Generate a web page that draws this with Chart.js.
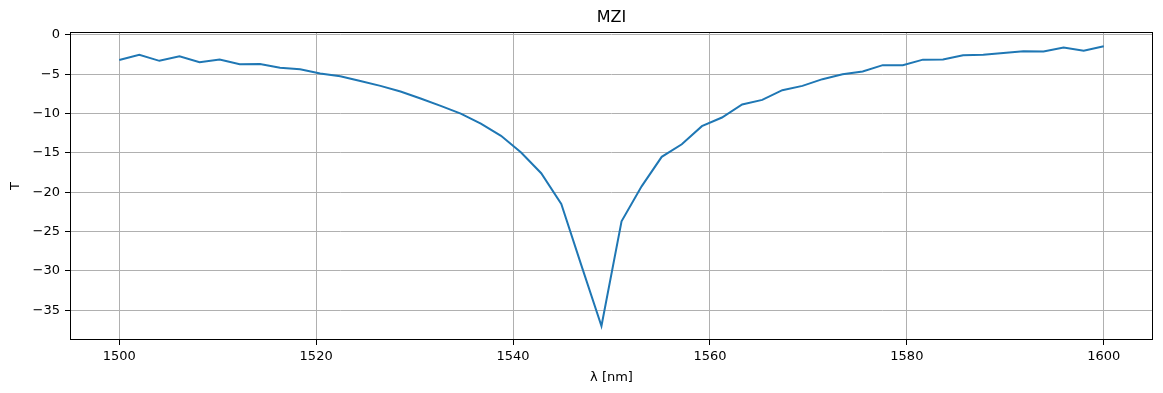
<!DOCTYPE html>
<html>
<head>
<meta charset="utf-8">
<script src="https://cdn.jsdelivr.net/npm/chart.js@4.4.0/dist/chart.umd.min.js"></script>
<style>
  html, body { margin: 0; padding: 0; background: #fff; }
  #wrap { width: 1163px; height: 393px; }
</style>
</head>
<body>
<div id="wrap"><canvas id="mziChart" width="1163" height="393"></canvas></div>
<script>
// wavelength samples (nm) and transmission (dB)
const wavelength = [
  1500.00, 1502.04, 1504.08, 1506.12, 1508.16, 1510.20, 1512.24, 1514.29, 1516.33, 1518.37,
  1520.41, 1522.45, 1524.49, 1526.53, 1528.57, 1530.61, 1532.65, 1534.69, 1536.73, 1538.78,
  1540.82, 1542.86, 1544.90, 1546.94, 1548.98, 1551.02, 1553.06, 1555.10, 1557.14, 1559.18,
  1561.22, 1563.27, 1565.31, 1567.35, 1569.39, 1571.43, 1573.47, 1575.51, 1577.55, 1579.59,
  1581.63, 1583.67, 1585.71, 1587.76, 1589.80, 1591.84, 1593.88, 1595.92, 1597.96, 1600.00
];
const transmission = [
  -3.20, -2.54, -3.30, -2.71, -3.47, -3.13, -3.73, -3.69, -4.19, -4.36,
  -4.91, -5.25, -5.85, -6.48, -7.20, -8.09, -9.02, -10.00, -11.27, -12.83,
  -14.95, -17.58, -21.50, -29.30, -37.00, -23.70, -19.25, -15.50, -13.90, -11.60,
  -10.50, -8.85, -8.26, -7.03, -6.48, -5.63, -5.00, -4.66, -3.85, -3.85,
  -3.15, -3.13, -2.58, -2.54, -2.29, -2.08, -2.12, -1.61, -2.03, -1.44
];
const xTicks = [1500, 1520, 1540, 1560, 1580, 1600];
const yTicks = [0, -5, -10, -15, -20, -25, -30, -35];

const fontFamily = "'DejaVu Sans', sans-serif";

// matplotlib-like full frame around the plot area
const frameBox = {
  id: 'frameBox',
  afterDatasetsDraw(chart) {
    const { ctx, chartArea: a } = chart;
    ctx.save();
    ctx.strokeStyle = '#000';
    ctx.lineWidth = 1;
    ctx.strokeRect(Math.round(a.left) + 0.5, Math.round(a.top) + 0.5,
      Math.round(a.right - a.left) - 1, Math.round(a.bottom - a.top) - 1);
    ctx.restore();
  }
};

const ctx = document.getElementById('mziChart').getContext('2d');
new Chart(ctx, {
  type: 'line',
  data: {
    datasets: [{
      data: wavelength.map((x, i) => ({ x: x, y: transmission[i] })),
      borderColor: '#1f77b4',
      borderWidth: 2,
      pointRadius: 0,
      fill: false,
      tension: 0
    }]
  },
  options: {
    responsive: false,
    devicePixelRatio: 1,
    animation: false,
    layout: { padding: { left: 0, right: 10, top: 0, bottom: 0 } },
    plugins: {
      legend: { display: false },
      tooltip: { enabled: false },
      title: {
        display: true,
        text: 'MZI',
        fullSize: false,
        color: '#000',
        font: { family: fontFamily, size: 16, weight: 'normal' },
        padding: { top: 8, bottom: 5 }
      }
    },
    scales: {
      x: {
        type: 'linear',
        min: 1495,
        max: 1605,
        afterBuildTicks: (scale) => { scale.ticks = xTicks.map(v => ({ value: v })); },
        afterFit: (scale) => { scale.height = 53; },
        border: { display: false },
        grid: { color: '#b0b0b0', lineWidth: 1, tickColor: '#000', tickLength: 5, tickWidth: 1 },
        ticks: {
          color: '#000',
          font: { family: fontFamily, size: 13 },
          padding: 4,
          maxRotation: 0,
          callback: (v) => String(v)
        },
        title: {
          display: true,
          text: 'λ [nm]',
          color: '#000',
          font: { family: fontFamily, size: 13 },
          padding: { top: 0, bottom: 8 }
        }
      },
      y: {
        type: 'linear',
        min: -38.78,
        max: 0.34,
        afterBuildTicks: (scale) => { scale.ticks = yTicks.map(v => ({ value: v })); },
        afterFit: (scale) => { scale.width = 70; },
        border: { display: false },
        grid: { color: '#b0b0b0', lineWidth: 1, tickColor: '#000', tickLength: 5, tickWidth: 1 },
        ticks: {
          color: '#000',
          font: { family: fontFamily, size: 13 },
          padding: 5,
          callback: (v) => (v < 0 ? '\u2212' + Math.abs(v) : String(v))
        },
        title: {
          display: true,
          text: 'T',
          color: '#000',
          font: { family: fontFamily, size: 13 },
          padding: { top: 8, bottom: 0 }
        }
      }
    }
  },
  plugins: [frameBox]
});
</script>
</body>
</html>
